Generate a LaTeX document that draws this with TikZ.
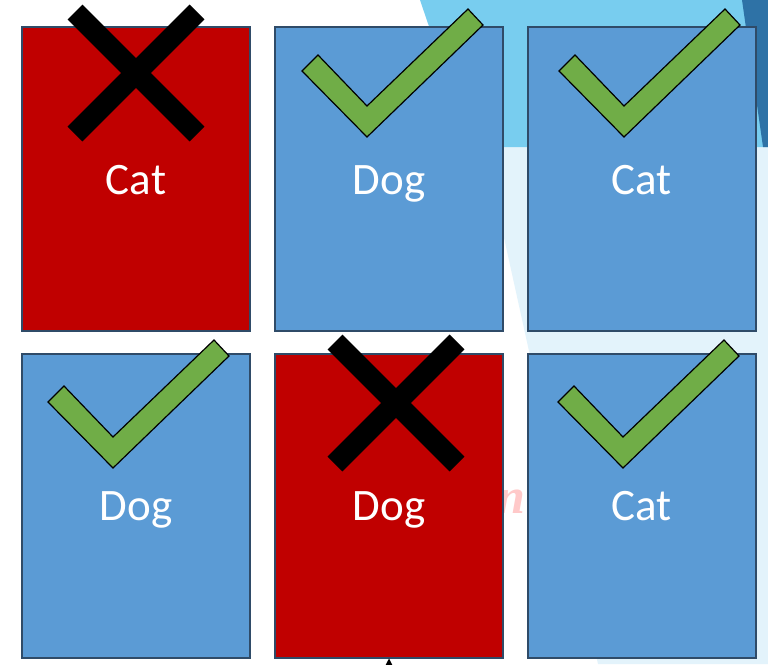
\documentclass[tikz,border=0pt]{standalone}
\usepackage{fontspec}
\setmainfont{Carlito}
\newfontfamily\ghostfont{Liberation Serif}
\usepackage{tikz}
\usetikzlibrary{arrows.meta}
\definecolor{cardblue}{HTML}{5B9BD5}
\definecolor{cardred}{HTML}{C00000}
\definecolor{tickgreen}{HTML}{70AD47}
\definecolor{cardline}{HTML}{2F4B68}
\definecolor{skyblue}{HTML}{78CDEF}
\definecolor{paleblue}{HTML}{E3F3FB}
\definecolor{deepblue}{HTML}{2E72A6}
\definecolor{ghostpink}{HTML}{FFC9C9}

\begin{document}
\begin{tikzpicture}[x=1pt, y=-1pt, >=latex,
    card/.style={draw=cardline, line width=2pt, minimum width=228pt,
      minimum height=304pt, inner sep=0pt},
    cardtext/.style={text=white, font=\fontsize{45}{54}\selectfont, inner sep=0pt},
    xstroke/.style={black, line width=21pt},
    okmark/.style={fill=tickgreen, draw=black, line width=1.2pt, line join=miter}]
      % Page frame (pixel coordinates, y grows downward)
      \useasboundingbox (0,0) rectangle (768,664);
      \clip (0,0) rectangle (768,664);
      \fill[white] (0,0) rectangle (768,664);

      % Slide background: the facets on the right
      \fill[paleblue] (484,147) -- (768,147) -- (768,664) -- (598,664) -- cycle;
      \fill[skyblue] (420,0) -- (768,0) -- (768,147) -- (470,147) -- cycle;
      \fill[deepblue] (742,0) -- (768,0) -- (768,147) -- (763,147) -- cycle;

      % Word behind the cards, only its last letter shows
      \node[anchor=base west, inner sep=0pt, text=ghostpink,
        font=\ghostfont\fontsize{50}{56}\selectfont\bfseries\itshape] (ghost) at (497,513) {n};

      % The six cards and their labels
      \foreach \name/\cx/\cy/\fillc/\lbl in {c1/136/179/cardred/Cat, c2/389/179/cardblue/Dog,
          c3/641.5/179/cardblue/Cat, c4/136/505.5/cardblue/Dog,
          c5/389/505.5/cardred/Dog, c6/641.5/505.5/cardblue/Cat}{
        \node[card, fill=\fillc] (\name) at (\cx,\cy) {};
        \node[cardtext, anchor=base] (\name-t) at (\cx,\cy+15) {\lbl};
      }

      % Arrow coming up from below the slide
      \coordinate (tail) at (389,720);
      \draw[-{Triangle[length=12pt,width=12pt]}, line width=1pt] (tail) -- (c5.south);

      % Crosses on the wrong guesses
      \foreach \mx/\my in {136/73, 396/403}{
        \draw[xstroke] (\mx-61,\my-61) -- (\mx+61,\my+61);
        \draw[xstroke] (\mx+61,\my-61) -- (\mx-61,\my+61);
      }

      % Ticks on the right guesses (given by their lowest point)
      \foreach \bx/\by in {367/137, 624/137, 113/468, 623/468}{
        \filldraw[okmark] (\bx,\by) -- ++(-65,-66) -- ++(16,-16) -- (\bx,\by-31)
          -- ++(101,-97) -- ++(15,16) -- cycle;
      }
    \end{tikzpicture}
\end{document}
